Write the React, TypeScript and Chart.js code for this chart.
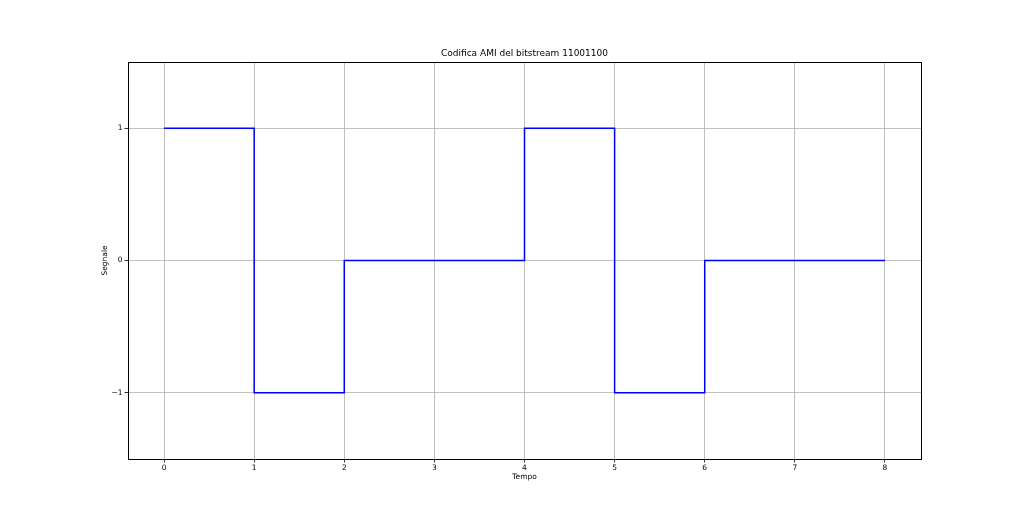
import React, { useEffect, useRef } from "react";
import { Chart, registerables } from "chart.js";

Chart.register(...registerables);

const times = [0, 1, 2, 3, 4, 5, 6, 7, 8];
const signal = [1, -1, 0, 0, 1, -1, 0, 0, 0];
const xTicks = [0, 1, 2, 3, 4, 5, 6, 7, 8];
const yTicks = [-1, 0, 1];
const titleText = "Codifica AMI del bitstream 11001100";

const FONT = "'DejaVu Sans', sans-serif";

const frame = {
  id: "frame",
  afterDraw(chart: any) {
    const { ctx, chartArea } = chart;
    ctx.save();
    ctx.strokeStyle = "#000";
    ctx.lineWidth = 1;
    ctx.strokeRect(
      Math.round(chartArea.left) + 0.5,
      Math.round(chartArea.top) + 0.5,
      Math.round(chartArea.right - chartArea.left),
      Math.round(chartArea.bottom - chartArea.top)
    );
    ctx.restore();
  },
};

export default function App() {
  const ref = useRef<HTMLCanvasElement>(null);
  useEffect(() => {
    const chart = new Chart(ref.current!, {
      type: "line",
      data: {
        datasets: [
          {
            data: times.map((t, i) => ({ x: t, y: signal[i] })),
            borderColor: "#0000ff",
            borderWidth: 1.5,
            pointRadius: 0,
            stepped: "before",
            fill: false,
          },
        ],
      },
      plugins: [frame],
      options: {
        animation: false,
        responsive: false,
        devicePixelRatio: 1,
        layout: { padding: { left: 101, right: 103, top: 0, bottom: 34 } },
        plugins: {
          legend: { display: false },
          tooltip: { enabled: false },
          title: {
            display: true,
            text: titleText,
            fullSize: false,
            color: "#000",
            font: { family: FONT, size: 9, weight: "normal", lineHeight: 1.2 },
            padding: { top: 48.6, bottom: 2.6 },
          },
        },
        scales: {
          x: {
            type: "linear",
            min: -0.4,
            max: 8.4,
            afterBuildTicks: (s: any) => {
              s.ticks = xTicks.map((v) => ({ value: v }));
            },
            afterFit: (s: any) => {
              s.height = 23;
            },
            ticks: {
              color: "#000",
              font: { family: FONT, size: 7.5 },
              padding: 1,
              maxRotation: 0,
              autoSkip: false,
              callback: (v: any) => String(v),
            },
            grid: {
              color: "#b0b0b0",
              lineWidth: 0.8,
              tickColor: "#000",
              tickLength: 3.5,
              drawTicks: true,
            },
            border: { display: false },
            title: {
              display: true,
              text: "Tempo",
              color: "#000",
              font: { family: FONT, size: 7.5 },
              padding: 0,
            },
          },
          y: {
            type: "linear",
            min: -1.5,
            max: 1.5,
            afterBuildTicks: (s: any) => {
              s.ticks = yTicks.map((v) => ({ value: v }));
            },
            afterFit: (s: any) => {
              s.width = 27;
            },
            ticks: {
              color: "#000",
              font: { family: FONT, size: 7.5 },
              padding: 2,
              autoSkip: false,
              callback: (v: any) => (v < 0 ? "\u2212" + Math.abs(v) : String(v)),
            },
            grid: {
              color: "#b0b0b0",
              lineWidth: 0.8,
              tickColor: "#000",
              tickLength: 3.5,
              drawTicks: true,
            },
            border: { display: false },
            title: {
              display: true,
              text: "Segnale",
              color: "#000",
              font: { family: FONT, size: 7.5 },
              padding: 0,
            },
          },
        },
      },
    } as any);
    return () => chart.destroy();
  }, []);
  return (
    <div style={{ position: "absolute", left: 0, top: 0, width: 1024, height: 516, background: "#fff" }}>
      <canvas ref={ref} width={1024} height={516} style={{ width: 1024, height: 516 }} />
    </div>
  );
}
